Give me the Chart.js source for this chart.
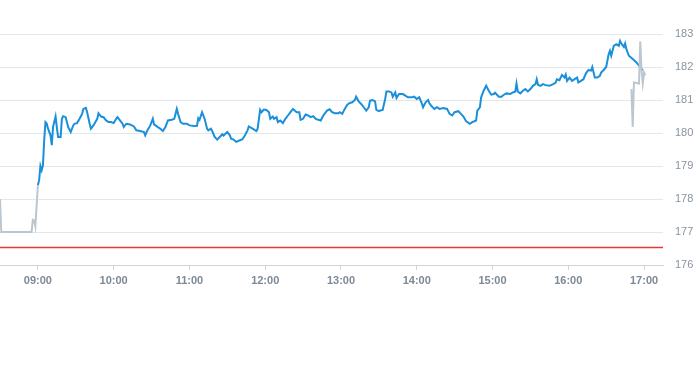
<!DOCTYPE html>
<html>
<head>
<meta charset="utf-8">
<script src="https://cdn.jsdelivr.net/npm/chart.js@4/dist/chart.umd.min.js"></script>
<style>
  html, body { margin: 0; padding: 0; background: #fff; overflow: hidden; }
  #wrap { width: 693px; height: 295px; }
</style>
</head>
<body>
<div id="wrap"><canvas id="chart" width="693" height="295"></canvas></div>
<script>
// time in minutes after midnight
const preMinutes = [510, 511, 535, 536, 537, 538, 540];
const prePrices  = [178.0, 177.0, 177.0, 177.37, 177.35, 177.17, 178.42];

const sessionMinutes = [
  540, 541, 542, 543, 544, 545, 546, 547, 548, 550, 551, 552, 554, 555, 556, 558, 559, 560, 562, 564,
  566, 568, 569, 571, 573, 575, 576, 578, 579, 581, 582, 584, 587, 588, 590, 592, 594, 596, 598, 600,
  602, 603, 605, 607, 608, 610, 613, 616, 618, 621, 624, 625, 627, 629, 631, 632, 635, 637, 639, 641,
  643, 646, 648, 650, 651, 653, 655, 658, 660, 664, 666, 667, 668, 670, 672, 674, 675, 677, 678, 680,
  682, 684, 686, 687, 690, 692, 693, 695, 697, 700, 702, 704, 706, 707, 710, 713, 714, 716, 717, 719,
  721, 723, 724, 726, 727, 729, 730, 732, 734, 736, 738, 740, 742, 744, 745, 747, 748, 750, 752, 754,
  756, 758, 760, 762, 764, 766, 769, 771, 773, 775, 778, 779, 781, 783, 785, 787, 789, 791, 792, 794,
  796, 798, 800, 802, 803, 805, 807, 808, 810, 811, 813, 815, 816, 818, 820, 821, 823, 824, 826, 829,
  831, 833, 836, 838, 840, 842, 844, 845, 847, 849, 850, 852, 854, 856, 858, 861, 864, 866, 868, 870,
  873, 875, 877, 879, 882, 884, 887, 888, 890, 891, 893, 895, 897, 899, 901, 902, 905, 907, 909, 911,
  914, 916, 918, 919, 920, 922, 924, 926, 928, 930, 932, 934, 935, 936, 938, 940, 942, 945, 948, 950,
  951, 953, 955, 957, 958, 959, 961, 963, 965, 967, 968, 970, 972, 974, 976, 978, 979, 981, 983, 985,
  986, 988, 990, 992, 993, 994, 996, 998, 1000, 1001, 1002, 1004, 1005, 1006, 1008, 1011, 1014, 1016, 1018, 1019
];
const sessionPrices = [
  178.42, 178.57, 179.0, 178.87, 179.02, 179.78, 180.33, 180.29, 180.14, 179.93, 179.63, 180.18, 180.5, 180.18, 179.88, 179.88, 180.43, 180.51, 180.48, 180.18,
  180.03, 180.23, 180.28, 180.3, 180.43, 180.58, 180.73, 180.76, 180.63, 180.28, 180.13, 180.23, 180.43, 180.6, 180.5, 180.48, 180.38, 180.33, 180.33, 180.3,
  180.43, 180.48, 180.38, 180.28, 180.18, 180.28, 180.26, 180.2, 180.08, 180.06, 180.03, 179.93, 180.1, 180.23, 180.43, 180.26, 180.18, 180.13, 180.06, 180.18,
  180.38, 180.4, 180.43, 180.73, 180.58, 180.33, 180.28, 180.28, 180.23, 180.21, 180.22, 180.45, 180.4, 180.63, 180.43, 180.13, 180.08, 180.13, 180.06, 179.88,
  179.8, 179.88, 179.96, 179.92, 180.03, 179.93, 179.83, 179.8, 179.73, 179.78, 179.81, 179.93, 180.08, 180.2, 180.13, 180.06, 180.13, 180.7, 180.63, 180.71,
  180.7, 180.63, 180.43, 180.5, 180.43, 180.48, 180.33, 180.38, 180.3, 180.43, 180.53, 180.63, 180.73, 180.66, 180.63, 180.63, 180.4, 180.43, 180.56, 180.53,
  180.48, 180.51, 180.43, 180.4, 180.38, 180.53, 180.68, 180.72, 180.63, 180.6, 180.6, 180.63, 180.58, 180.73, 180.86, 180.91, 180.93, 181.0, 181.1, 180.96,
  180.88, 180.78, 180.68, 180.78, 180.98, 181.0, 180.96, 180.7, 180.66, 180.68, 180.7, 181.03, 181.26, 181.26, 181.23, 181.1, 181.23, 181.06, 181.18, 181.18,
  181.13, 181.08, 181.08, 181.1, 181.03, 181.08, 180.9, 180.78, 180.93, 181.0, 180.9, 180.8, 180.73, 180.78, 180.73, 180.76, 180.73, 180.58, 180.53, 180.63,
  180.66, 180.58, 180.5, 180.36, 180.28, 180.33, 180.38, 180.68, 180.78, 181.08, 181.28, 181.43, 181.28, 181.16, 181.18, 181.22, 181.1, 181.1, 181.16, 181.2,
  181.18, 181.23, 181.25, 181.5, 181.26, 181.2, 181.28, 181.33, 181.26, 181.33, 181.43, 181.48, 181.63, 181.46, 181.43, 181.48, 181.45, 181.43, 181.48, 181.53,
  181.63, 181.6, 181.76, 181.68, 181.77, 181.58, 181.68, 181.58, 181.63, 181.68, 181.53, 181.58, 181.63, 181.81, 181.91, 181.89, 182.0, 181.68, 181.68, 181.73,
  181.83, 181.91, 182.0, 182.39, 182.49, 182.34, 182.64, 182.69, 182.64, 182.79, 182.71, 182.61, 182.71, 182.54, 182.34, 182.24, 182.14, 182.04, 181.94, 181.89
];

const postMinutes = [1010, 1011, 1012, 1016, 1017, 1018, 1019, 1020, 1021];
const postPrices  = [181.33, 180.18, 181.53, 181.5, 182.77, 181.9, 181.5, 181.83, 181.75];

const prevClose = 176.53;
const axisMinutes = [510, 1035];
const timeTicks = [540, 600, 660, 720, 780, 840, 900, 960, 1020];
const priceRange = [176, 183];

const toPoints = (xs, ys) => xs.map((x, i) => ({ x: x, y: ys[i] }));

const pad = n => String(n).padStart(2, '0');
const fmtTime = m => pad(Math.floor(m / 60)) + ':' + pad(Math.round(m % 60));

const lineStyle = {
  pointRadius: 0,
  tension: 0,
  fill: false
};

new Chart(document.getElementById('chart'), {
  type: 'line',
  data: {
    datasets: [
      {
        ...lineStyle,
        data: toPoints(axisMinutes, [prevClose, prevClose]),
        borderColor: '#e53935',
        borderWidth: 1.5
      },
      {
        ...lineStyle,
        data: toPoints(preMinutes, prePrices),
        borderColor: '#bcc6cf',
        borderWidth: 2
      },
      {
        ...lineStyle,
        data: toPoints(postMinutes, postPrices),
        borderColor: '#bcc6cf',
        borderWidth: 2
      },
      {
        ...lineStyle,
        data: toPoints(sessionMinutes, sessionPrices),
        borderColor: '#1a8fdb',
        borderWidth: 2
      }
    ]
  },
  options: {
    responsive: false,
    animation: false,
    events: [],
    layout: { padding: { top: 34, left: 0, right: 0, bottom: 0 } },
    plugins: {
      legend: { display: false },
      tooltip: { enabled: false }
    },
    scales: {
      x: {
        type: 'linear',
        min: axisMinutes[0],
        max: axisMinutes[1],
        afterBuildTicks: scale => {
          scale.ticks = timeTicks.map(v => ({ value: v }));
        },
        afterFit: scale => { scale.height = 30; },
        grid: {
          drawOnChartArea: false,
          drawTicks: true,
          tickLength: 5,
          color: '#ccd5de'
        },
        border: { color: '#ccd5de' },
        ticks: {
          callback: v => fmtTime(v),
          color: '#7d8995',
          padding: 4,
          maxRotation: 0,
          autoSkip: false,
          font: { family: 'Liberation Sans', size: 11, weight: 'bold' }
        }
      },
      y: {
        position: 'right',
        min: priceRange[0],
        max: priceRange[1],
        afterFit: scale => { scale.width = 30; },
        grid: {
          drawTicks: false,
          color: '#e3e6ea'
        },
        border: { display: false },
        ticks: {
          stepSize: 1,
          color: '#8893a0',
          padding: 12,
          font: { family: 'Liberation Sans', size: 11 }
        }
      }
    }
  }
});
</script>
</body>
</html>
